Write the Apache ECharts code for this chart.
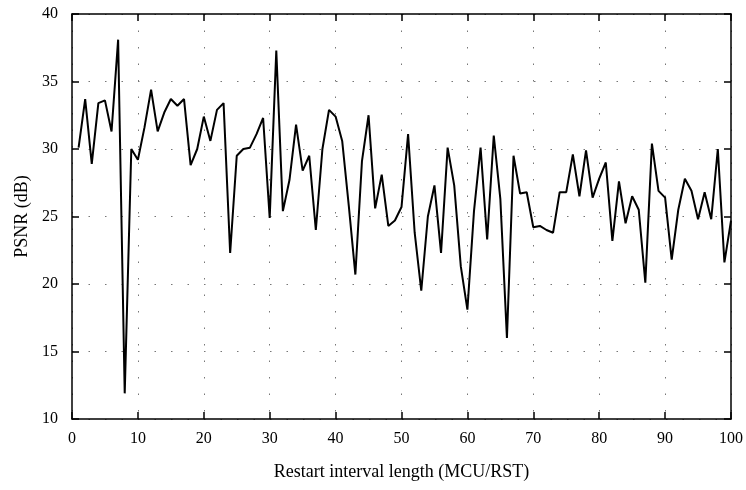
<!DOCTYPE html>
<html>
<head>
<meta charset="utf-8">
<script src="https://cdn.jsdelivr.net/npm/echarts@6/dist/echarts.min.js"></script>
<style>
html, body { margin: 0; padding: 0; background: #fff; }
#main { width: 746px; height: 490px; }
</style>
</head>
<body>
<div id="main"></div>
<script>
// restart interval length 1..100 and measured PSNR (dB)
var intervals = [];
for (var i = 1; i <= 100; i++) intervals.push(i);

var psnr = [
    30.1, 33.7, 28.9, 33.4, 33.6, 31.3, 38.1, 11.9, 30.0, 29.2,
    31.6, 34.4, 31.3, 32.7, 33.7, 33.2, 33.7, 28.8, 30.0, 32.4,
    30.6, 32.9, 33.4, 22.3, 29.5, 30.0, 30.1, 31.1, 32.3, 24.9,
    37.3, 25.4, 27.7, 31.8, 28.4, 29.5, 24.0, 30.0, 32.9, 32.4,
    30.6, 25.8, 20.7, 29.1, 32.5, 25.6, 28.1, 24.3, 24.7, 25.7,
    31.1, 23.8, 19.5, 25.0, 27.3, 22.3, 30.1, 27.3, 21.3, 18.1,
    25.4, 30.1, 23.3, 31.0, 26.3, 16.0, 29.5, 26.7, 26.8, 24.2,
    24.3, 24.0, 23.8, 26.8, 26.8, 29.6, 26.5, 29.9, 26.4, 27.8,
    29.0, 23.2, 27.6, 24.5, 26.5, 25.5, 20.1, 30.4, 26.9, 26.4,
    21.8, 25.5, 27.8, 26.9, 24.8, 26.8, 24.8, 30.0, 21.6, 24.7
];

var seriesData = [];
for (var j = 0; j < intervals.length; j++) {
    seriesData.push([intervals[j], psnr[j]]);
}

var font = "'Liberation Serif', 'DejaVu Serif', serif";
var dots = { show: true, lineStyle: { color: '#777', width: 1, type: [1.5, 15] } };

var option = {
    animation: false,
    backgroundColor: '#fff',
    textStyle: { fontFamily: font },
    grid: { left: 72, right: 15, top: 14, bottom: 71, containLabel: false },
    xAxis: [{
        type: 'value', min: 0, max: 100, interval: 10,
        name: 'Restart interval length (MCU/RST)',
        nameLocation: 'middle', nameGap: 44,
        nameTextStyle: { color: '#000', fontSize: 18, fontFamily: font },
        axisLine: { show: true, onZero: false, lineStyle: { color: '#000', width: 1.5 } },
        axisTick: { show: true, inside: true, length: 7, lineStyle: { color: '#000', width: 1.5 } },
        axisLabel: { color: '#000', fontSize: 16, fontFamily: font, margin: 12 },
        splitLine: dots
    }, {
        type: 'value', min: 0, max: 100, interval: 10, position: 'top',
        axisLine: { show: true, onZero: false, lineStyle: { color: '#000', width: 1.5 } },
        axisTick: { show: true, inside: true, length: 7, lineStyle: { color: '#000', width: 1.5 } },
        axisLabel: { show: false },
        splitLine: { show: false }
    }],
    yAxis: [{
        type: 'value', min: 10, max: 40, interval: 5,
        name: 'PSNR (dB)',
        nameLocation: 'middle', nameGap: 40,
        nameTextStyle: { color: '#000', fontSize: 18, fontFamily: font },
        axisLine: { show: true, onZero: false, lineStyle: { color: '#000', width: 1.5 } },
        axisTick: { show: true, inside: true, length: 7, lineStyle: { color: '#000', width: 1.5 } },
        axisLabel: { color: '#000', fontSize: 16, fontFamily: font, margin: 14 },
        splitLine: dots
    }, {
        type: 'value', min: 10, max: 40, interval: 5, position: 'right',
        axisLine: { show: true, onZero: false, lineStyle: { color: '#000', width: 1.5 } },
        axisTick: { show: true, inside: true, length: 7, lineStyle: { color: '#000', width: 1.5 } },
        axisLabel: { show: false },
        splitLine: { show: false }
    }],
    series: [{
        type: 'line',
        data: seriesData,
        showSymbol: false,
        lineStyle: { color: '#000', width: 2 }
    }]
};

echarts.init(document.getElementById('main')).setOption(option);
</script>
</body>
</html>
